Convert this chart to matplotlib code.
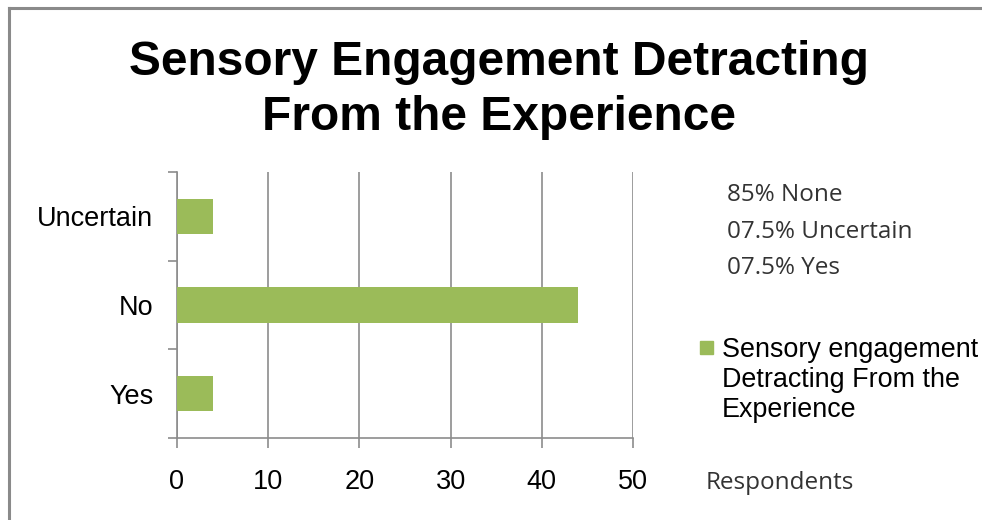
import matplotlib
matplotlib.use("Agg")
import matplotlib.pyplot as plt
from matplotlib.patches import Rectangle
from matplotlib.lines import Line2D

categories = ["Yes", "No", "Uncertain"]
respondents = [4, 44, 4]
summary_lines = ["85% None", "07.5% Uncertain", "07.5% Yes"]
series_name = "Sensory engagement\nDetracting From the\nExperience"
title = "Sensory Engagement Detracting\nFrom the Experience"
x_ticks = [0, 10, 20, 30, 40, 50]
x_label = "Respondents"

BAR = "#9bbb59"
GRID = "#8c8c8c"

W, H = 982, 520
fig = plt.figure(figsize=(W / 100, H / 100), dpi=100)
fig.patch.set_facecolor("white")

# outer frame (left and top edges visible)
fig.add_artist(Line2D([9 / W, 9 / W], [0, 1 - 8 / H], transform=fig.transFigure,
                      color="#8a8a8a", lw=2.2))
fig.add_artist(Line2D([9 / W, 1], [1 - 8 / H, 1 - 8 / H], transform=fig.transFigure,
                      color="#8a8a8a", lw=2.2))

ax = fig.add_axes([177 / W, 1 - 438 / H, (633 - 177) / W, (438 - 172) / H])
ypos = list(range(len(categories)))
ax.barh(ypos, respondents, height=0.4, color=BAR, zorder=3)

ax.set_xlim(0, 50)
ax.set_ylim(-0.5, len(categories) - 0.5)
ax.set_xticks(x_ticks)
ax.set_xticklabels([str(t) for t in x_ticks], fontsize=19.5, family="Liberation Sans")
ax.set_yticks(ypos)
ax.set_yticklabels(categories, fontsize=19.5, family="Liberation Sans")
ax.set_yticks([i - 0.5 for i in range(len(categories) + 1)], minor=True)

ax.tick_params(axis="y", which="major", length=0, pad=17)
ax.tick_params(axis="y", which="minor", length=6.5, width=1.2, color=GRID)
ax.tick_params(axis="x", which="major", length=7.2, width=1.2, color=GRID, pad=15)

ax.grid(axis="x", color=GRID, lw=1.2, zorder=0)
for s in ["top", "right"]:
    ax.spines[s].set_visible(False)
for s in ["left", "bottom"]:
    ax.spines[s].set_color(GRID)
    ax.spines[s].set_linewidth(1.2)

fig.text(499 / W, 1 - 90 / H, title, ha="center", va="center", fontsize=34.5,
         fontweight="bold", family="Liberation Sans", linespacing=1.29)

for i, line in enumerate(summary_lines):
    fig.text(727 / W, 1 - (195 + 36.5 * i) / H, line, ha="left", va="center",
             fontsize=17.5, family="Open Sans", color="#333333")

fig.text(706 / W, 1 - 483 / H, x_label, ha="left", va="center",
         fontsize=17.5, family="Open Sans", color="#333333")

fig.add_artist(Rectangle((700 / W, 1 - 354 / H), 13 / W, 13 / H,
                         transform=fig.transFigure, color=BAR))
fig.text(722 / W, 1 - 380 / H, series_name, ha="left", va="center", fontsize=19.4,
         family="Liberation Sans", linespacing=1.2)

fig.savefig("out.png", dpi=100)
